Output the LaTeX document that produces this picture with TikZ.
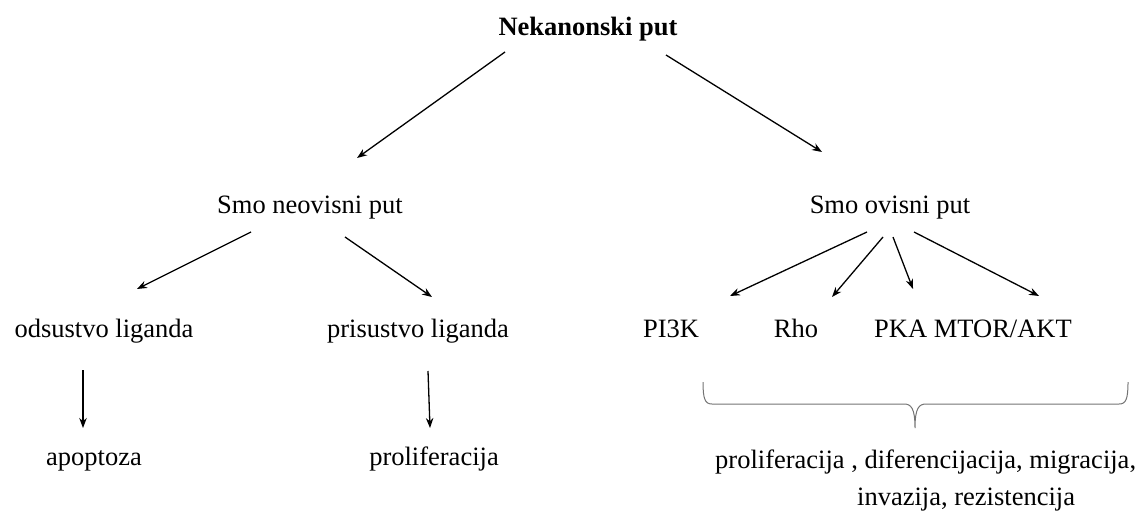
\documentclass[tikz,border=0pt]{standalone}
\usepackage{fontspec}
\setmainfont{Liberation Serif}
\usetikzlibrary{arrows.meta}
\begin{document}
\begin{tikzpicture}[x=1pt,y=-1pt,
  lbl/.style={anchor=base,inner sep=0pt,font=\fontsize{26.5}{32}\selectfont},
  lblw/.style={anchor=base west,inner sep=0pt,font=\fontsize{26.5}{32}\selectfont},
  arr/.style={line width=1.3pt,-{Stealth[length=10pt,width=7.5pt]}},
  bracestyle/.style={line width=1pt,draw=black!55}]
\useasboundingbox (0,0) rectangle (1142,522);
% nodes
\node[lbl,font=\fontsize{26.5}{32}\selectfont\bfseries] (title) at (588,35) {Nekanonski put};
\node[lbl] (neov) at (310,213) {Smo neovisni put};
\node[lbl] (ov) at (890,213) {Smo ovisni put};
\node[lbl] (ods) at (104,337) {odsustvo liganda};
\node[lbl] (pris) at (418,337) {prisustvo liganda};
\node[lbl] (pi3k) at (671,337) {PI3K};
\node[lbl] (rho) at (796,337) {Rho};
\node[lbl] (pka) at (973,337) {PKA MTOR/AKT};
\node[lbl] (apo) at (94,465) {apoptoza};
\node[lbl] (prol) at (434,465) {proliferacija};
\node[lblw] (res1) at (715,468) {proliferacija , diferencijacija, migracija,};
\node[lblw] (res2) at (857,505) {invazija, rezistencija};
% connector end points
\coordinate (a1s) at (505,52);  \coordinate (a1e) at (357,158);
\coordinate (a2s) at (666,55);  \coordinate (a2e) at (822,152);
\coordinate (b1s) at (251,232); \coordinate (b1e) at (137,289);
\coordinate (b2s) at (345,237); \coordinate (b2e) at (432,297);
\coordinate (c1s) at (867,232); \coordinate (c1e) at (730,296);
\coordinate (c2s) at (883,237); \coordinate (c2e) at (832,297);
\coordinate (c3s) at (893,237); \coordinate (c3e) at (913,289);
\coordinate (c4s) at (914,232); \coordinate (c4e) at (1039,296);
\coordinate (d1s) at (83,370);  \coordinate (d1e) at (83,428);
\coordinate (d2s) at (428,371); \coordinate (d2e) at (430,428);
% arrows
\draw[arr] (a1s) -- (a1e);
\draw[arr] (a2s) -- (a2e);
\draw[arr] (b1s) -- (b1e);
\draw[arr] (b2s) -- (b2e);
\draw[arr] (c1s) -- (c1e);
\draw[arr] (c2s) -- (c2e);
\draw[arr] (c3s) -- (c3e);
\draw[arr] (c4s) -- (c4e);
\draw[arr] (d1s) -- (d1e);
\draw[arr] (d2s) -- (d2e);
% brace
\coordinate (brL) at (703,382);
\coordinate (brM) at (915,428);
\coordinate (brR) at (1128,382);
\draw[bracestyle] (brL) .. controls (703,399) and (705,404) .. (712,404) -- (904,404)
  .. controls (911,404) and (915,408) .. (brM)
  .. controls (915,408) and (919,404) .. (926,404) -- (1119,404)
  .. controls (1126,404) and (1128,399) .. (brR);
\end{tikzpicture}
\end{document}
